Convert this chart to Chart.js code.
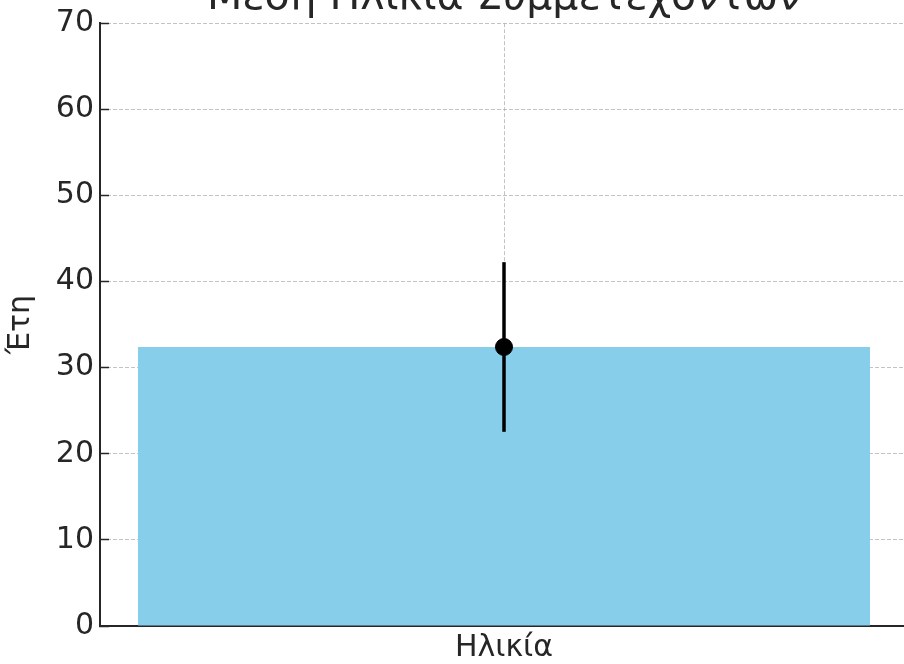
<!DOCTYPE html>
<html lang="el">
<head>
    <meta charset="UTF-8">
    <title>Μέση Ηλικία Συμμετεχόντων</title>
    <script src="https://cdn.jsdelivr.net/npm/chart.js"></script>
    <style>
        html, body { margin: 0; padding: 0; background: #fff; overflow: hidden; width: 904px; height: 664px; }
        .grafico { position: absolute; left: 0; top: -26px; width: 1006px; height: 690px; }
    </style>
</head>
<body>
    <div class="grafico">
        <canvas id="graficoIdade"></canvas>
    </div>

<script>
    // dados
    const categorias = ['Ηλικία']
    const medias = [32.4]
    const desvios = [9.85]
    const ticksY = [0, 10, 20, 30, 40, 50, 60, 70]

    const fonte = "'DejaVu Sans', sans-serif"
    const corTexto = '#262626'
    const corGrade = 'rgba(170,170,170,0.7)'

    // linha de erro (desvio padrao) desenhada pelas escalas do proprio chart
    const barrasErro = {
        id: 'barrasErro',
        afterDraw(chart) {
            const ctx = chart.ctx
            const x = chart.scales.x
            const y = chart.scales.y
            ctx.save()
            ctx.strokeStyle = '#000'
            ctx.lineWidth = 3.5
            for (let i = 0; i < medias.length; i++) {
                const px = x.getPixelForValue(i)
                ctx.beginPath()
                ctx.moveTo(px, y.getPixelForValue(medias[i] - desvios[i]))
                ctx.lineTo(px, y.getPixelForValue(medias[i] + desvios[i]))
                ctx.stroke()
            }
            ctx.restore()
        }
    }

    new Chart(document.getElementById('graficoIdade'), {
        data: {
            labels: categorias,
            datasets: [
                {
                    type: 'line',
                    label: 'Μέση τιμή',
                    data: medias,
                    showLine: false,
                    pointRadius: 8.5,
                    pointBackgroundColor: '#000',
                    pointBorderColor: '#000',
                    order: 0
                },
                {
                    type: 'bar',
                    label: 'Ηλικία',
                    data: medias,
                    backgroundColor: '#87CEEB',
                    categoryPercentage: 1,
                    barPercentage: 0.906,
                    order: 1
                }
            ]
        },
        options: {
            responsive: true,
            maintainAspectRatio: false,
            animation: false,
            devicePixelRatio: 1,
            layout: { padding: { left: 0, right: 98, top: 0, bottom: 0 } },
            plugins: {
                legend: { display: false },
                tooltip: { enabled: false },
                title: {
                    display: true,
                    fullSize: false,
                    text: 'Μέση Ηλικία Συμμετεχόντων',
                    color: corTexto,
                    font: { family: fonte, size: 41, weight: 'normal' },
                    padding: { top: 0, bottom: 0 }
                }
            },
            scales: {
                x: {
                    z: 1,
                    offset: true,
                    grid: {
                        offset: false,
                        drawTicks: true,
                        tickLength: -9,
                        tickColor: '#262626',
                        tickWidth: 1.5,
                        color: corGrade,
                        lineWidth: 1
                    },
                    border: { display: true, color: '#262626', width: 2, dash: [4, 2] },
                    ticks: {
                        color: corTexto,
                        padding: 13,
                        font: { family: fonte, size: 30 }
                    },
                    afterFit(scale) { scale.height = 38 }
                },
                y: {
                    z: 1,
                    min: 0,
                    max: 70,
                    afterBuildTicks(scale) { scale.ticks = ticksY.map(v => ({ value: v })) },
                    grid: {
                        drawTicks: true,
                        tickLength: -9,
                        tickColor: '#262626',
                        tickWidth: 1.5,
                        color: corGrade,
                        lineWidth: 1
                    },
                    border: { display: true, color: '#262626', width: 2, dash: [4, 2] },
                    ticks: {
                        color: corTexto,
                        padding: 15,
                        font: { family: fonte, size: 30 }
                    },
                    title: {
                        display: true,
                        text: 'Έτη',
                        color: corTexto,
                        font: { family: fonte, size: 30 },
                        padding: { top: 3, bottom: 0 }
                    },
                    afterFit(scale) { scale.width = 100 }
                }
            }
        },
        plugins: [barrasErro]
    })
</script>
</body>
</html>
